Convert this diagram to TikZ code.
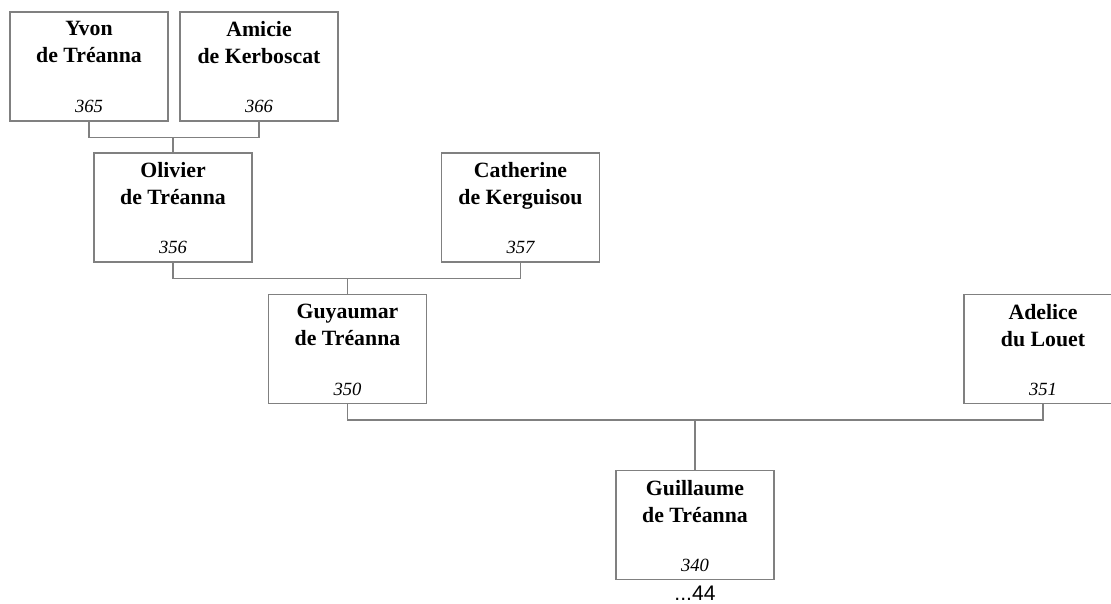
\documentclass[tikz,border=0pt]{standalone}
\usepackage{fontspec}
\setmainfont{Liberation Serif}
\newfontfamily\arialfont{Liberation Sans}
\usetikzlibrary{positioning}

\begin{document}
\begin{tikzpicture}[
  pers/.style={rectangle,draw=black!50,line width=0.6pt,fill=white,minimum width=3.16cm,minimum height=2.18cm,inner sep=0pt},
  nm/.style={anchor=north,align=center,inner sep=0pt,yshift=-5.6pt,font=\fontsize{12.4}{15.4}\selectfont\bfseries},
  num/.style={anchor=base,inner sep=0pt,yshift=5.1pt,font=\fontsize{10.6}{12}\selectfont\itshape},
  conn/.style={draw=black!50,line width=0.6pt},
  pg/.style={font=\arialfont\fontsize{12}{14}\selectfont,inner sep=0pt}
]
  \useasboundingbox (0,0) rectangle (22.22,12.06);
  \node[pers,label={[nm]north:{Yvon\\de Tréanna}},label={[num]south:365}](yvon) at (1.78,10.73) {};
  \node[pers,label={[nm]north:{Amicie\\de Kerboscat}},label={[num]south:366}](amicie) at (5.18,10.73) {};
  \node[pers,label={[nm]north:{Olivier\\de Tréanna}},label={[num]south:356}](olivier) at (3.46,7.91) {};
  \node[pers,label={[nm]north:{Catherine\\de Kerguisou}},label={[num]south:357}](catherine) at (10.41,7.91) {};
  \node[pers,label={[nm]north:{Guyaumar\\de Tréanna}},label={[num]south:350}](guyaumar) at (6.95,5.08) {};
  \node[pers,label={[nm]north:{Adelice\\du Louet}},label={[num]south:351}](adelice) at (20.86,5.08) {};
  \node[pers,label={[nm]north:{Guillaume\\de Tréanna}},label={[num]south:340}](guillaume) at (13.90,1.56) {};
  \node[pg,anchor=north,below=3pt of guillaume](suite) {...44};
  \draw[conn](yvon.south)-- ++(0,-0.32) coordinate(b1) -|(amicie.south);
  \draw[conn](olivier.north)--(olivier.north |- b1);
  \draw[conn](olivier.south)-- ++(0,-0.32) coordinate(b2) -|(catherine.south);
  \draw[conn](guyaumar.north)--(guyaumar.north |- b2);
  \draw[conn](guyaumar.south)-- ++(0,-0.32) coordinate(b3) -|(adelice.south);
  \draw[conn](guillaume.north)--(guillaume.north |- b3);
\end{tikzpicture}
\end{document}
